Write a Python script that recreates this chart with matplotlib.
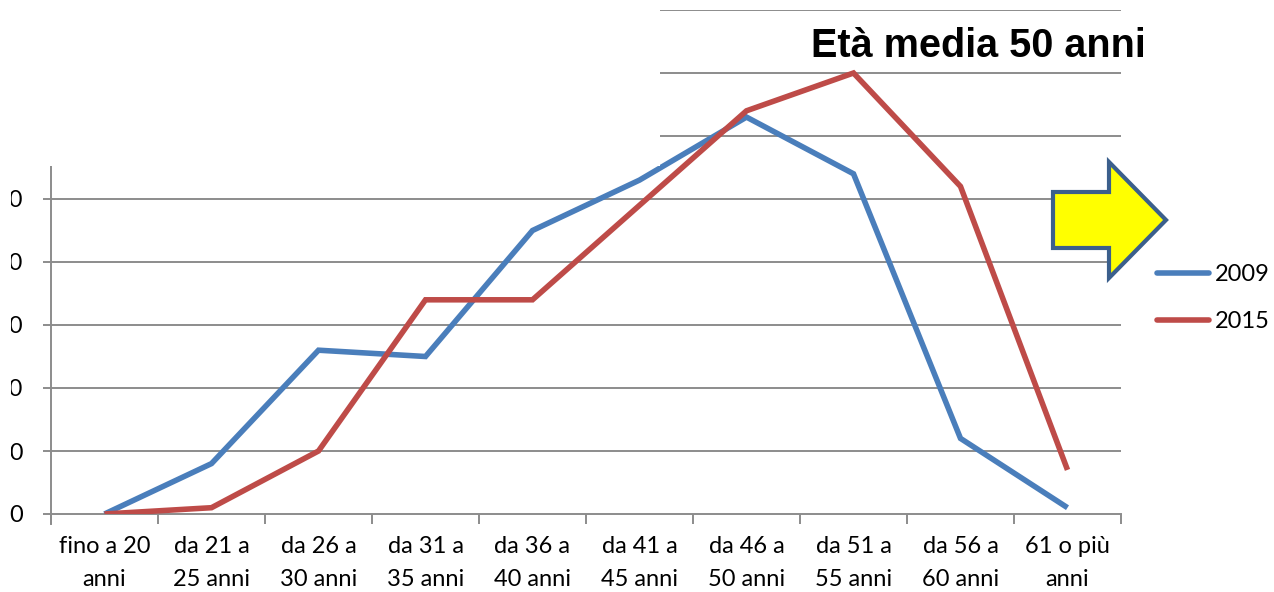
import matplotlib
matplotlib.use("Agg")
import matplotlib.pyplot as plt
from matplotlib.patches import Rectangle, Polygon

# Age bands of the staff and the number of people in each band
categories = ["fino a 20\nanni", "da 21 a\n25 anni", "da 26 a\n30 anni", "da 31 a\n35 anni",
              "da 36 a\n40 anni", "da 41 a\n45 anni", "da 46 a\n50 anni", "da 51 a\n55 anni",
              "da 56 a\n60 anni", "61 o più\nanni"]
series_2009 = [0, 8, 26, 25, 45, 53, 63, 54, 12, 1]
series_2015 = [0, 1, 10, 34, 34, 49, 64, 70, 52, 7]
y_ticks = [0, 10, 20, 30, 40, 50, 60, 70, 80]
title = "Età media 50 anni"

W, H = 1274, 592
fig = plt.figure(figsize=(W / 100, H / 100), dpi=100)
fig.patch.set_facecolor("white")


def fx(px):
    return px / W


def fy(py):
    return 1 - py / H


ax = fig.add_axes([fx(51), fy(514), fx(1121) - fx(51), fy(10) - fy(514)])
ax.set_xlim(0, len(categories))
ax.set_ylim(y_ticks[0], y_ticks[-1])

grid_c = "#8c8c8c"
blue = "#4a7ebb"
red = "#be4b48"
label_font = "Lato"
fs = 17

for v in y_ticks[1:]:
    ax.axhline(v, color=grid_c, lw=1.4, zorder=1)

xs = [i + 0.5 for i in range(len(categories))]
ax.plot(xs, series_2009, color=blue, lw=4.0, label="2009", zorder=3,
        solid_joinstyle="miter", solid_capstyle="butt")
ax.plot(xs, series_2015, color=red, lw=4.0, label="2015", zorder=3,
        solid_joinstyle="miter", solid_capstyle="butt")

for s in ["top", "right"]:
    ax.spines[s].set_visible(False)
ax.spines["left"].set_color(grid_c)
ax.spines["left"].set_linewidth(1.4)
ax.spines["left"].set_bounds(-1.6, y_ticks[-1])
ax.spines["bottom"].set_color(grid_c)
ax.spines["bottom"].set_linewidth(1.4)

ax.set_xticks(range(len(categories) + 1))
ax.set_xticklabels([])
ax.set_xticks(xs, minor=True)
ax.set_xticklabels(categories, minor=True, fontsize=fs, family=label_font,
                   linespacing=1.7)
ax.tick_params(axis="x", which="major", length=7, width=1.4, color=grid_c)
ax.tick_params(axis="x", which="minor", length=0, pad=16)

ax.set_yticks(y_ticks)
ax.set_yticklabels([str(v) for v in y_ticks], fontsize=fs, family=label_font)
ax.tick_params(axis="y", length=6, width=1.4, color=grid_c, pad=14)

# white panel lying over the upper left of the chart
fig.add_artist(Rectangle((0, fy(166)), fx(660), 1 - fy(166), transform=fig.transFigure,
                         facecolor="white", edgecolor="none", zorder=5))
# white strip along the left margin
fig.add_artist(Rectangle((0, fy(495)), fx(11), 1 - fy(495), transform=fig.transFigure,
                         facecolor="white", edgecolor="none", zorder=5))

fig.text(fx(978), fy(46), title, ha="center", va="center", fontsize=28.5,
         fontweight="bold", family="Liberation Sans", zorder=6)

# yellow block arrow pointing right
arrow_px = [(1053, 192), (1109, 192), (1109, 162), (1166, 220), (1109, 278),
            (1109, 248), (1053, 248)]
fig.add_artist(Polygon([(fx(x), fy(y)) for x, y in arrow_px], closed=True,
                       transform=fig.transFigure, facecolor="#ffff00",
                       edgecolor="#3b5f8c", lw=3.0, joinstyle="miter", zorder=6))

leg = ax.legend(loc="upper left", bbox_to_anchor=(fx(1136), fy(243)),
                bbox_transform=fig.transFigure, frameon=False,
                handlelength=2.2, handletextpad=0.25, labelspacing=1.1,
                prop={"family": label_font, "size": fs})
for line in leg.get_lines():
    line.set_solid_capstyle("round")

fig.savefig("out.png", dpi=100, facecolor="white")
